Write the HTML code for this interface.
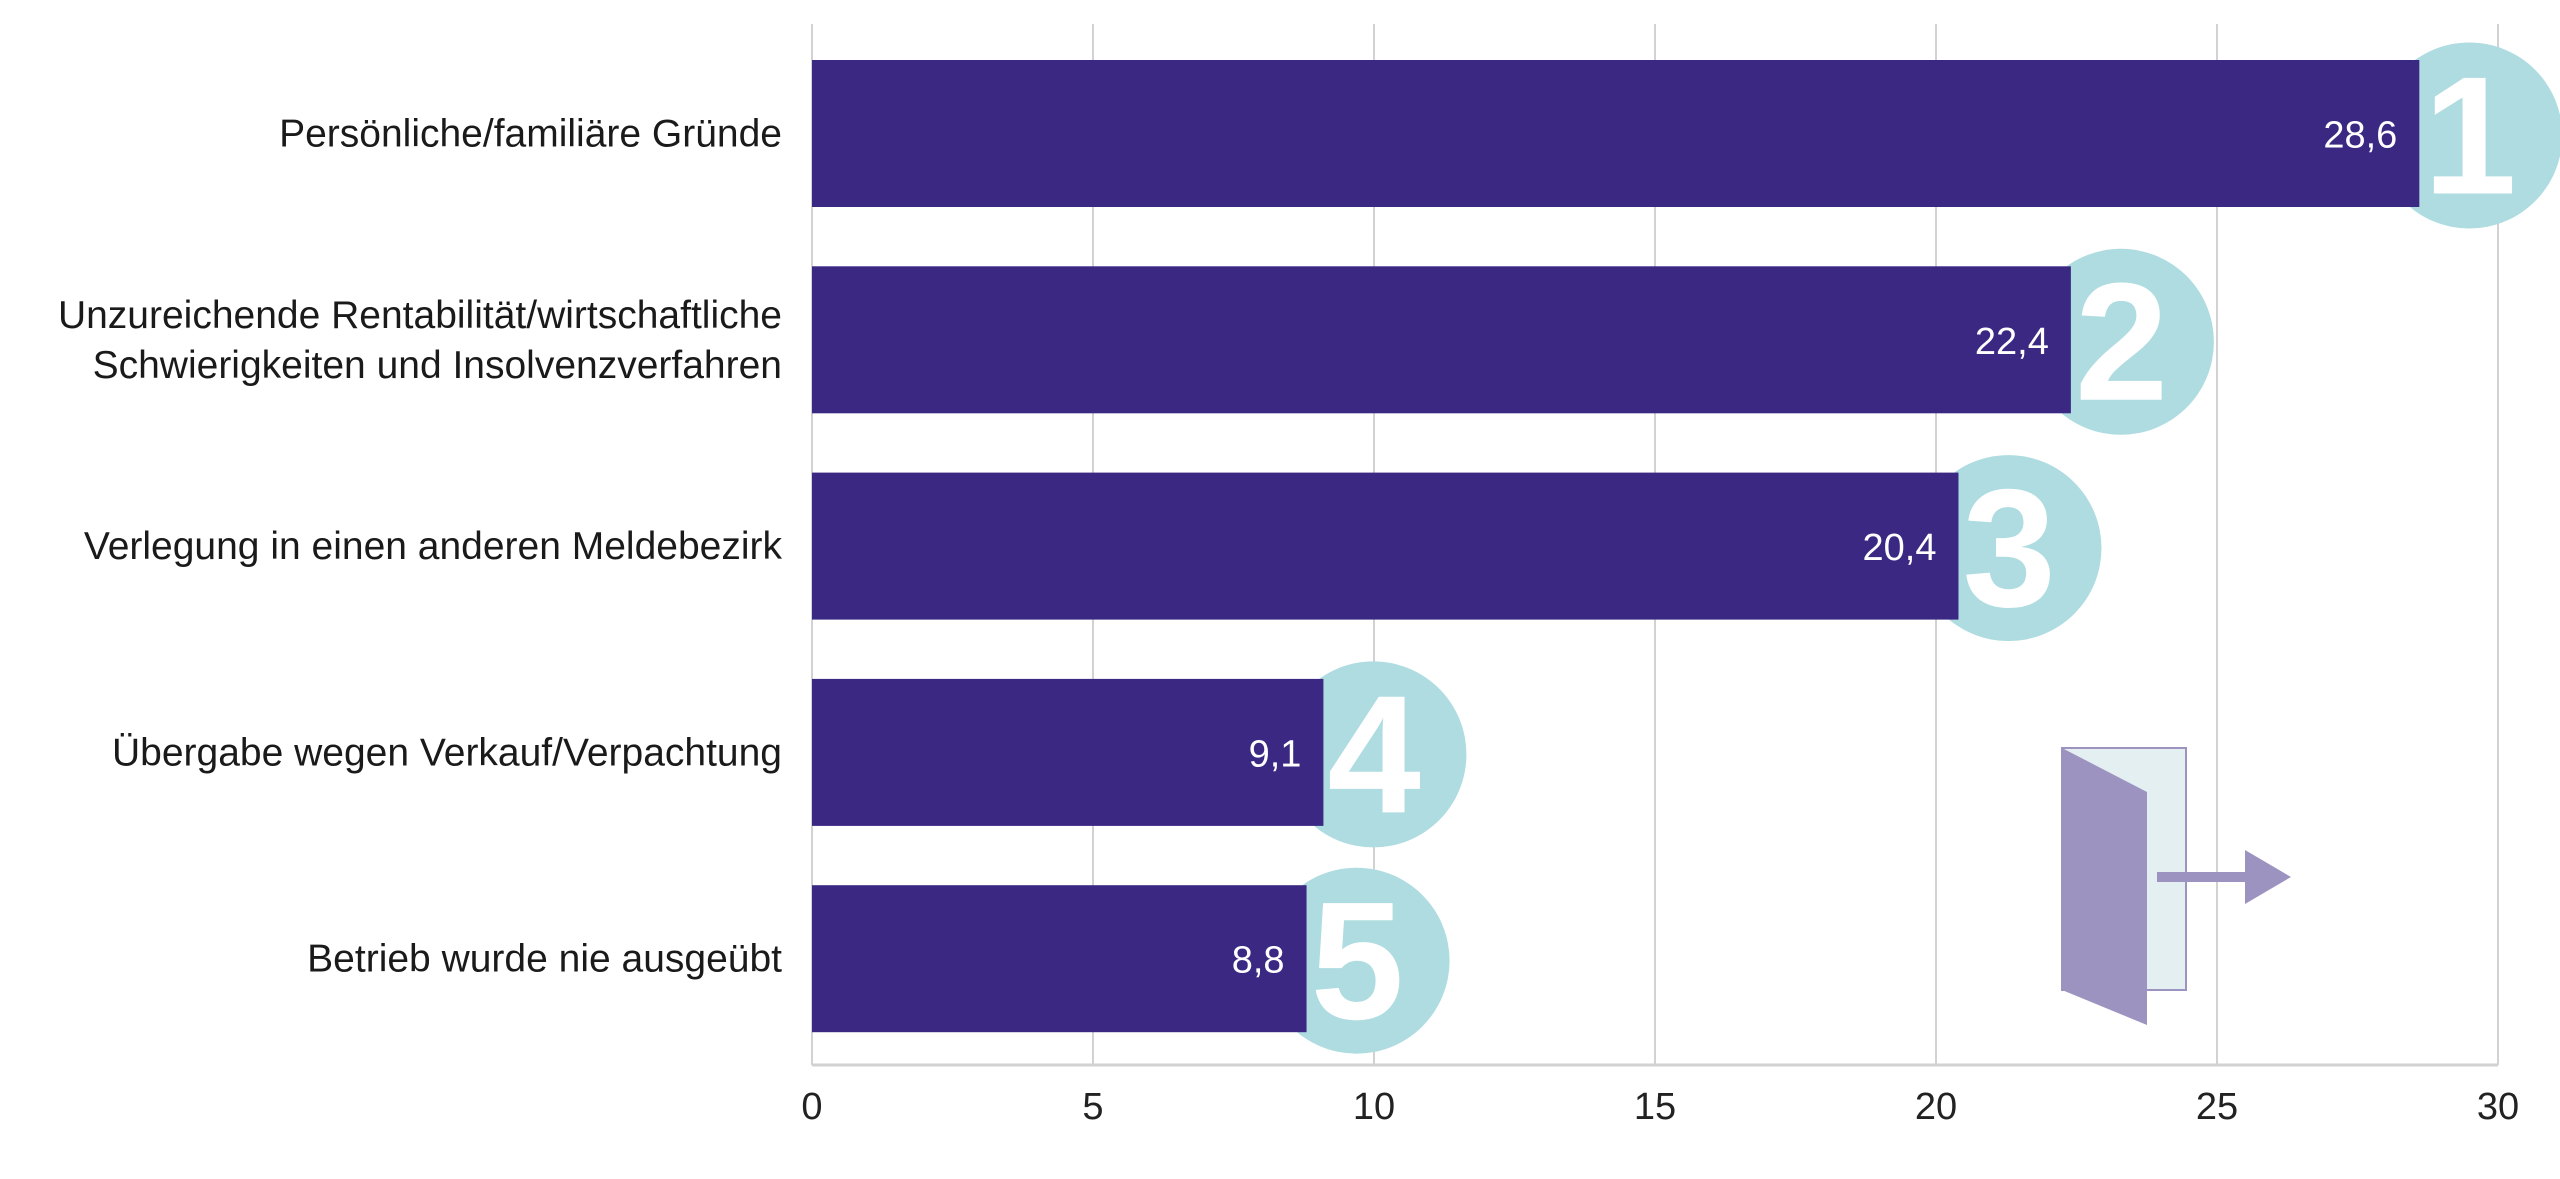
<!DOCTYPE html>
<html><head><meta charset="utf-8"><style>
html,body{margin:0;padding:0;background:#fff;}
svg{display:block;font-family:"Liberation Sans",sans-serif;}
</style></head><body>
<svg id="chart" width="2560" height="1179" viewBox="0 0 2560 1179">
<g id="grid"></g>
<g id="bars"></g>
<g id="labels"></g>
<g id="ticks"></g>
<g>
<rect x="2062" y="748" width="124" height="242" fill="#e3eff1" stroke="#9d93c1" stroke-width="2"/>
<polygon points="2062,748 2147,792 2147,1025 2062,990" fill="#9d93c1"/>
<rect x="2157" y="872" width="90" height="10" fill="#9d93c1"/>
<polygon points="2245,850 2291,877 2245,904" fill="#9d93c1"/>
</g>
</svg>
<script>
const categories=[["Persönliche/familiäre Gründe"],["Unzureichende Rentabilität/wirtschaftliche","Schwierigkeiten und Insolvenzverfahren"],["Verlegung in einen anderen Meldebezirk"],["Übergabe wegen Verkauf/Verpachtung"],["Betrieb wurde nie ausgeübt"]];
const values=[28.6,22.4,20.4,9.1,8.8];
const valueLabels=["28,6","22,4","20,4","9,1","8,8"];
const ranks=["1","2","3","4","5"];
const ticks=[0,5,10,15,20,25,30];
const NS="http://www.w3.org/2000/svg";
const x0=812,x1=2498,xMax=30;
const xs=v=>x0+(x1-x0)*v/xMax;
const bandTop=60,pitch=206.3,barH=147;
const yb=i=>bandTop+i*pitch;
function mk(t,a,p){const e=document.createElementNS(NS,t);for(const k in a)e.setAttribute(k,a[k]);p.appendChild(e);return e;}
const grid=document.getElementById('grid'),bars=document.getElementById('bars'),labels=document.getElementById('labels'),tk=document.getElementById('ticks');
ticks.forEach(t=>{
 const l=mk('line',{x1:xs(t),x2:xs(t),y1:24,y2:1065,stroke:'#d2d2d2','stroke-width':2},grid);
 
 
 const tx=mk('text',{x:xs(t),y:1119,'text-anchor':'middle','font-size':38,fill:'#222'},tk);
 tx.textContent=String(t);
 
 
});
const ax=mk('line',{x1:x0,x2:x1,y1:1065,y2:1065,stroke:'#d2d2d2','stroke-width':3},grid);


values.forEach((v,i)=>{
 const y=yb(i),cy=y+barH/2,xe=xs(v);
 const c=mk('circle',{cx:xe+50,cy:cy+2,r:93,fill:'#aedce0'},bars);
 
 
 const r=mk('rect',{x:x0,y:y,width:xe-x0,height:barH,fill:'#3b2882'},bars);
 
 
 const n=mk('text',{x:xe+4,y:cy+60,'font-size':168,'font-weight':'bold',fill:'#fff'},bars);
 n.textContent=ranks[i];
 
 
 const vl=mk('text',{x:xe-22,y:cy+14,'text-anchor':'end','font-size':38,fill:'#fff'},bars);
 vl.textContent=valueLabels[i];
 
 
 const lines=categories[i];
 lines.forEach((s,j)=>{
  const off=(j-(lines.length-1)/2)*50;
  const t=mk('text',{x:782,y:cy+13+off,'text-anchor':'end','font-size':39,fill:'#1a1a1a'},labels);
  t.textContent=s;
  
  
 });
});
</script>
</body></html>
